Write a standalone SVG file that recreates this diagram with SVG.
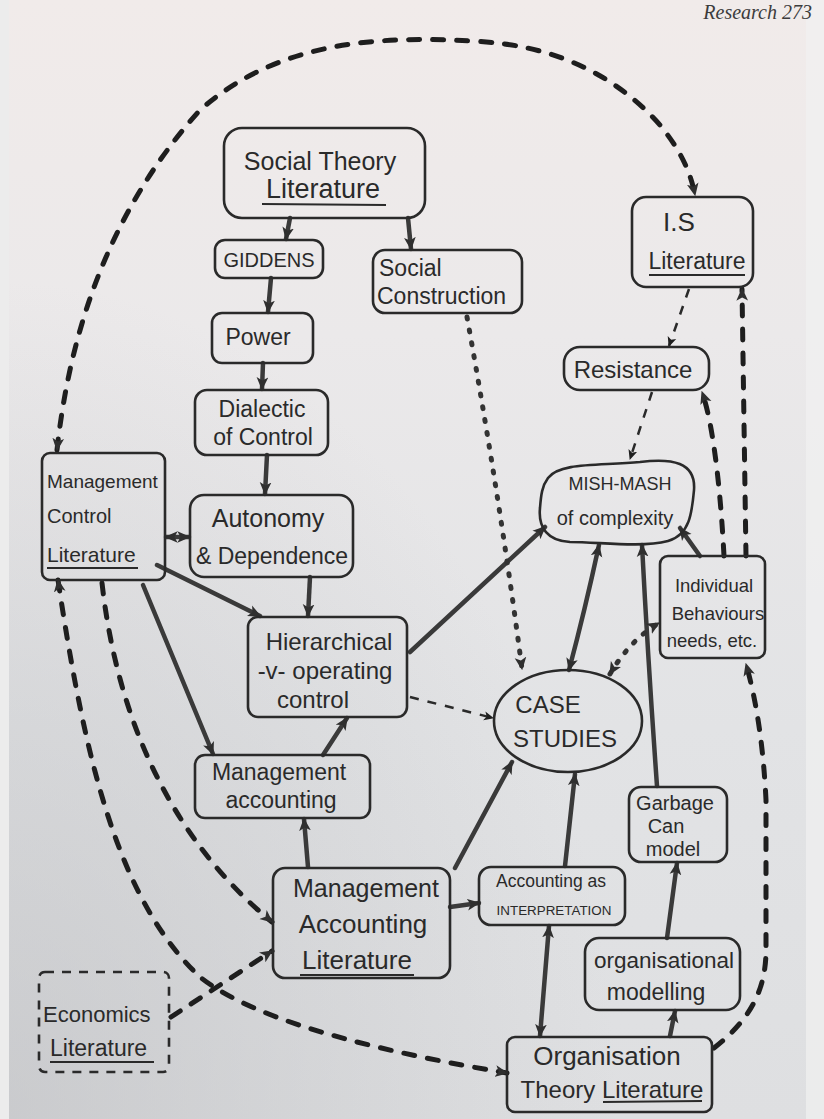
<svg xmlns="http://www.w3.org/2000/svg" width="824" height="1119" viewBox="0 0 824 1119">
<defs>
<linearGradient id="pg" x1="0" y1="0" x2="0" y2="1">
<stop offset="0" stop-color="#f1ebea"/>
<stop offset="0.3" stop-color="#ebe9ea"/>
<stop offset="0.65" stop-color="#e2e3e5"/>
<stop offset="1" stop-color="#dedfe1"/>
</linearGradient>
<radialGradient id="sh" cx="0" cy="1" r="0.75">
<stop offset="0" stop-color="#b9babd" stop-opacity="0.55"/>
<stop offset="1" stop-color="#b9babd" stop-opacity="0"/>
</radialGradient>
<marker id="ah" viewBox="0 0 10 10" refX="9" refY="5" markerWidth="13" markerHeight="13" markerUnits="userSpaceOnUse" orient="auto-start-reverse">
<path d="M0,0.5 L10,5 L0,9.5 L2.5,5 z" fill="#2f2f2f"/>
</marker>
<marker id="ahs" viewBox="0 0 10 10" refX="9" refY="5" markerWidth="10" markerHeight="10" markerUnits="userSpaceOnUse" orient="auto-start-reverse">
<path d="M0,0.5 L10,5 L0,9.5 L2.5,5 z" fill="#1f1f1f"/>
</marker>
<style>
.box{fill:none;stroke:#2a2a2a;stroke-width:2.6;stroke-linejoin:round}
.t{font-family:"Liberation Sans",Arial,sans-serif;fill:#2a2a2a;text-anchor:middle}
.tl{font-family:"Liberation Sans",Arial,sans-serif;fill:#2a2a2a;text-anchor:start}
.ul{stroke:#2a2a2a;stroke-width:2;fill:none}
.sol{fill:none;stroke:#3a3a3a;stroke-width:4.5;stroke-linecap:round;marker-end:url(#ah)}
.dbl{marker-start:url(#ah)}
.dsh{fill:none;stroke:#1e1e1e;stroke-width:5;stroke-dasharray:11 13;stroke-linecap:round;marker-end:url(#ah)}
.dthin{fill:none;stroke:#2a2a2a;stroke-width:2.5;stroke-dasharray:9 9;marker-end:url(#ahs)}
.dot{fill:none;stroke:#333;stroke-width:5;stroke-dasharray:2 11;stroke-linecap:round;marker-end:url(#ah)}
</style>
</defs>
<rect x="0" y="0" width="824" height="1119" fill="url(#pg)"/>
<rect x="0" y="0" width="824" height="1119" fill="url(#sh)"/>
<rect x="0" y="0" width="9" height="1119" fill="#ececec"/>
<rect x="806" y="0" width="18" height="1119" fill="#f1f1f1" opacity="0.7"/>
<text x="812" y="19" font-family="Liberation Serif, serif" font-style="italic" font-size="20" fill="#3c3c3c" text-anchor="end">Research  273</text>

<g id="connectors">
<path class="dsh dbl" d="M57,450 C70,330 110,210 200,110 C280,40 380,36 470,41 C560,44 620,80 660,125 C680,150 690,170 695,195"/>
<path class="sol" d="M290,218 L286,239"/>
<path class="sol" d="M408,218 L411,249"/>
<path class="sol" d="M271,278 L268,312"/>
<path class="sol" d="M263,363 L262,389"/>
<path class="sol" d="M267,455 L265,494"/>
<path class="sol dbl" d="M166,537 L189,537"/>
<path class="sol" d="M157,565 L260,616"/>
<path class="sol" d="M310,577 L308,616"/>
<path class="sol" d="M143,585 L213,754"/>
<path class="sol" d="M323,755 L347,718"/>
<path class="sol" d="M308,867 L304,819"/>
<path class="sol" d="M410,652 L545,527"/>
<path class="sol dbl" d="M569,670 Q585,610 599,545"/>
<path class="sol" d="M657,786 Q648,660 642,545"/>
<path class="sol" d="M700,556 L680,528"/>
<path class="sol" d="M455,868 L512,762"/>
<path class="sol" d="M565,866 L575,774"/>
<path class="sol" d="M450,907 L479,903"/>
<path class="sol dbl" d="M549,926 L540,1036"/>
<path class="sol" d="M670,1036 L675,1011"/>
<path class="sol" d="M667,938 L677,863"/>
<path class="dthin" d="M689,289 L669,346"/>
<path class="dthin" d="M652,392 L630,459"/>
<path class="dsh" d="M724,556 C720,480 712,420 702,392"/>
<path class="dsh" d="M746,556 L742,289"/>
<path class="dsh" d="M714,1048 C750,1020 766,990 766,950 L766,800 Q762,720 746,664"/>
<path class="dot" d="M467,317 Q500,500 522,669"/>
<path class="dthin" d="M410,697 L493,718"/>
<path class="dot dbl" d="M610,674 Q630,640 659,623"/>
<path class="dsh" d="M102,583 C115,700 160,830 272,922"/>
<path class="dsh dbl" d="M58,580 C85,760 118,900 200,977 C260,1025 400,1055 507,1073"/>
<path class="dsh" d="M171,1017 L272,951"/>
</g>

<g id="social-theory">
<rect class="box" x="224" y="128" width="201" height="90" rx="18"/>
<text class="t" x="320" y="170" font-size="25">Social Theory</text>
<text class="t" x="323" y="198" font-size="27">Literature</text>
<path class="ul" d="M262,204 L386,205"/>
</g>
<g id="giddens">
<rect class="box" x="215" y="240" width="108" height="38" rx="10"/>
<text class="t" x="269" y="267" font-size="20">GIDDENS</text>
</g>
<g id="social-construction">
<rect class="box" x="373" y="250" width="149" height="63" rx="12"/>
<text class="tl" x="379" y="276" font-size="23">Social</text>
<text class="tl" x="377" y="304" font-size="23">Construction</text>
</g>
<g id="power">
<rect class="box" x="212" y="313" width="101" height="50" rx="10"/>
<text class="t" x="258" y="345" font-size="23">Power</text>
</g>
<g id="dialectic">
<rect class="box" x="195" y="390" width="133" height="65" rx="12"/>
<text class="t" x="262" y="417" font-size="23">Dialectic</text>
<text class="t" x="263" y="445" font-size="23">of Control</text>
</g>
<g id="management-control">
<rect class="box" x="42" y="453" width="123" height="127" rx="8"/>
<text class="tl" x="47" y="488" font-size="19">Management</text>
<text class="tl" x="47" y="523" font-size="20">Control</text>
<text class="tl" x="47" y="562" font-size="21">Literature</text>
<path class="ul" d="M47,568 L138,568"/>
</g>
<g id="autonomy">
<rect class="box" x="190" y="495" width="163" height="82" rx="14"/>
<text class="t" x="268" y="527" font-size="25">Autonomy</text>
<text class="t" x="272" y="564" font-size="23">&amp; Dependence</text>
</g>
<g id="hierarchical">
<rect class="box" x="248" y="617" width="159" height="100" rx="10"/>
<text class="t" x="329" y="650" font-size="24">Hierarchical</text>
<text class="t" x="325" y="679" font-size="24">-v- operating</text>
<text class="t" x="313" y="708" font-size="24">control</text>
</g>
<g id="management-accounting">
<rect class="box" x="195" y="755" width="175" height="63" rx="10"/>
<text class="t" x="279" y="780" font-size="23">Management</text>
<text class="t" x="281" y="808" font-size="23">accounting</text>
</g>
<g id="management-accounting-literature">
<rect class="box" x="273" y="868" width="177" height="110" rx="12"/>
<text class="t" x="366" y="897" font-size="25">Management</text>
<text class="t" x="363" y="933" font-size="26">Accounting</text>
<text class="t" x="357" y="969" font-size="26">Literature</text>
<path class="ul" d="M300,975 L414,975"/>
</g>
<g id="economics-literature">
<rect class="box" x="39" y="972" width="130" height="100" rx="6" stroke-dasharray="9 8"/>
<text class="tl" x="43" y="1022" font-size="22">Economics</text>
<text class="tl" x="50" y="1056" font-size="23">Literature</text>
<path class="ul" d="M50,1062 L154,1062"/>
</g>
<g id="accounting-interpretation">
<rect class="box" x="479" y="867" width="146" height="58" rx="12"/>
<text class="t" x="551" y="887" font-size="17.5">Accounting as</text>
<text class="t" x="554" y="915" font-size="13.4">INTERPRETATION</text>
</g>
<g id="organisational-modelling">
<rect class="box" x="585" y="938" width="155" height="72" rx="14"/>
<text class="t" x="664" y="968" font-size="22.5">organisational</text>
<text class="t" x="656" y="1000" font-size="23">modelling</text>
</g>
<g id="organisation-theory">
<rect class="box" x="507" y="1037" width="205" height="75" rx="8"/>
<text class="t" x="607" y="1065" font-size="26">Organisation</text>
<text class="t" x="612" y="1098" font-size="24">Theory Literature</text>
<path class="ul" d="M603,1102 L702,1101"/>
</g>
<g id="garbage-can">
<rect class="box" x="629" y="787" width="98" height="75" rx="12"/>
<text class="t" x="675" y="810" font-size="20">Garbage</text>
<text class="t" x="666" y="833" font-size="20">Can</text>
<text class="t" x="673" y="856" font-size="20">model</text>
</g>
<g id="individual-behaviours">
<rect class="box" x="660" y="556" width="105" height="102" rx="8"/>
<text class="t" x="714" y="592" font-size="18.5">Individual</text>
<text class="t" x="718" y="620" font-size="18.5">Behaviours</text>
<text class="t" x="712" y="647" font-size="18.5">needs, etc.</text>
</g>
<g id="case-studies">
<ellipse class="box" cx="568" cy="721" rx="74" ry="51"/>
<text class="t" x="548" y="713" font-size="24">CASE</text>
<text class="t" x="565" y="747" font-size="24">STUDIES</text>
</g>
<g id="mish-mash">
<path class="box" d="M548,478 C560,462 600,466 640,462 C672,458 696,462 694,490 C692,512 690,535 668,541 C640,548 600,542 570,542 C548,541 538,528 540,508 C541,495 542,486 548,478 Z"/>
<text class="t" x="620" y="490" font-size="18">MISH-MASH</text>
<text class="t" x="615" y="525" font-size="20">of complexity</text>
</g>
<g id="resistance">
<rect class="box" x="564" y="347" width="145" height="43" rx="16"/>
<text class="t" x="633" y="378" font-size="24">Resistance</text>
</g>
<g id="is-literature">
<rect class="box" x="632" y="197" width="121" height="90" rx="14"/>
<text class="t" x="679" y="231" font-size="26">I.S</text>
<text class="t" x="697" y="269" font-size="23">Literature</text>
<path class="ul" d="M649,275 L745,275"/>
</g>
</svg>
